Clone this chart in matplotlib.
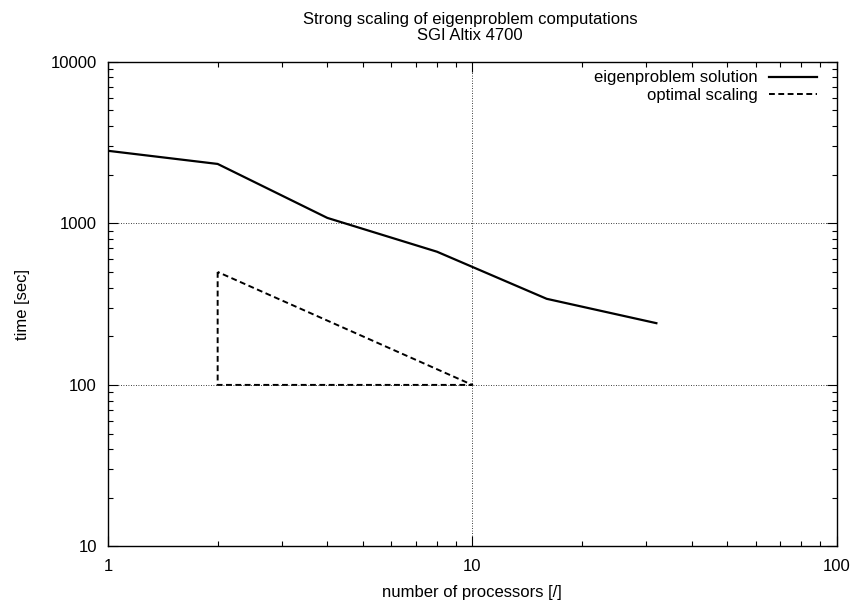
import numpy as np
import matplotlib.pyplot as plt
from matplotlib.ticker import LogLocator, FixedLocator, NullFormatter

plt.rcParams['font.family'] = ['Liberation Sans', 'DejaVu Sans']
plt.rcParams['font.size'] = 12

# datos
procesadores = [1, 2, 4, 8, 16, 32]
tiempo_eigen = [2810, 2330, 1080, 667, 341, 241]
optimo_x = [2, 2, 10, 2]
optimo_y = [500, 100, 100, 500]

fig = plt.figure(figsize=(8.59, 6.05), dpi=100)
ax = fig.add_axes([0.1257, 0.0967, 0.974 - 0.1257, 0.898 - 0.0967])

ax.plot(procesadores, tiempo_eigen, color='black', lw=1.6, label='eigenproblem solution')
ax.plot(optimo_x, optimo_y, color='black', lw=1.4, dashes=(3.0, 1.8), label='optimal scaling')

ax.set_xscale('log')
ax.set_yscale('log')
ax.set_xlim(1, 100)
ax.set_ylim(10, 10000)

ax.xaxis.set_major_locator(FixedLocator([1, 10, 100]))
ax.yaxis.set_major_locator(FixedLocator([10, 100, 1000, 10000]))
ax.xaxis.set_minor_locator(LogLocator(base=10, subs=np.arange(2, 10)))
ax.yaxis.set_minor_locator(LogLocator(base=10, subs=np.arange(2, 10)))
ax.xaxis.set_minor_formatter(NullFormatter())
ax.yaxis.set_minor_formatter(NullFormatter())
ax.set_xticklabels(['1', '10', '100'])
ax.set_yticklabels(['10', '100', '1000', '10000'])

ax.tick_params(which='both', direction='in', top=True, right=True, width=0.8, colors='black')
ax.tick_params(which='major', length=7, labelsize=12)
ax.tick_params(axis='x', which='major', pad=9)
ax.tick_params(axis='y', which='major', pad=8)
ax.tick_params(which='minor', length=3.5)
for s in ax.spines.values():
    s.set_linewidth(1.0)

ax.grid(True, which='major', linestyle=(0, (1, 2)), color='black', lw=0.6)

ax.set_xlabel('number of processors [/]', fontsize=12, labelpad=8)
ax.set_ylabel('time [sec]', fontsize=12, labelpad=15)
fig.text(0.547, 0.968, 'Strong scaling of eigenproblem computations', ha='center', va='center', fontsize=12)
fig.text(0.547, 0.941, 'SGI Altix 4700', ha='center', va='center', fontsize=12)

ax.legend(loc='upper right', frameon=False, markerfirst=False, fontsize=12,
          handlelength=2.9, handletextpad=0.65, labelspacing=0.14,
          borderaxespad=0, borderpad=0, bbox_to_anchor=(0.973, 0.982))

fig.savefig('out.png', dpi=100)
